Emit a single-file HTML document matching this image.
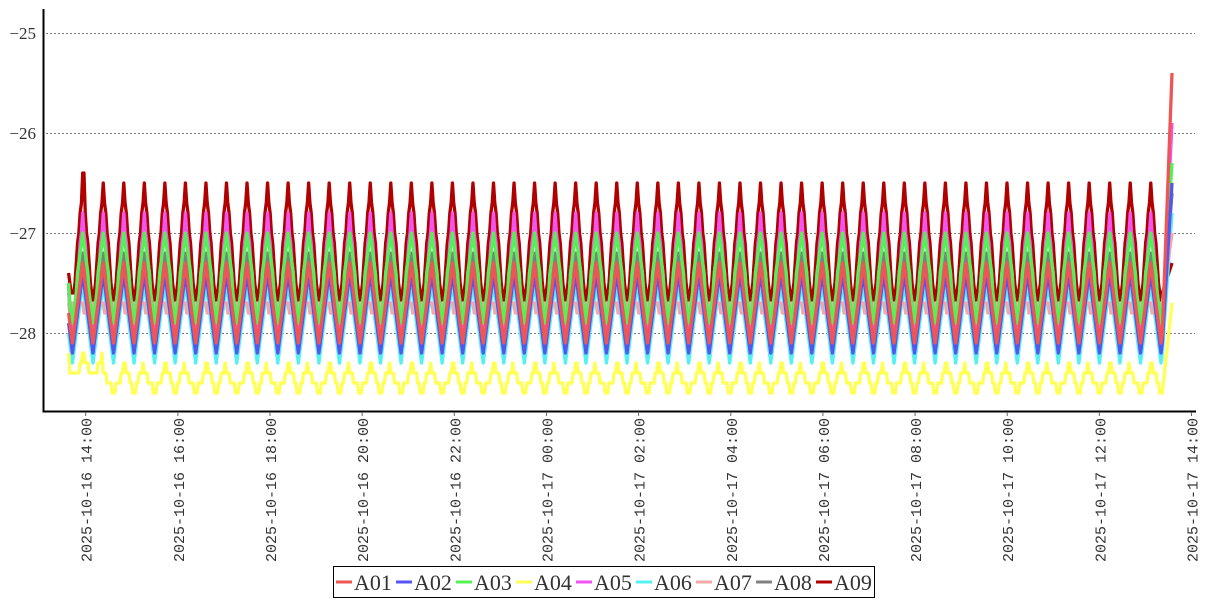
<!DOCTYPE html>
<html>
<head>
<meta charset="utf-8">
<style>
  html,body{margin:0;padding:0;background:#fff;}
  svg{display:block;}
  text{font-family:"Liberation Mono","DejaVu Sans Mono",monospace;fill:#333;}
  .ser{font-family:"Liberation Serif","DejaVu Serif",serif;}
</style>
</head>
<body>
<svg id="chart" xmlns="http://www.w3.org/2000/svg" width="1207" height="600" viewBox="0 0 1207 600">
  <rect x="0" y="0" width="1207" height="600" fill="#fff"/>
  <!-- grid -->
  <g stroke="#808080" stroke-width="1" stroke-dasharray="2 2">
    <line x1="46" y1="33.5" x2="1195" y2="33.5"/>
    <line x1="46" y1="133.5" x2="1195" y2="133.5"/>
    <line x1="46" y1="233.5" x2="1195" y2="233.5"/>
    <line x1="46" y1="333.5" x2="1195" y2="333.5"/>
  </g>
  <!-- y labels -->
  <g font-size="17" text-anchor="end" class="ser">
    <text class="ser" x="36" y="39">−25</text>
    <text class="ser" x="36" y="139">−26</text>
    <text class="ser" x="36" y="239">−27</text>
    <text class="ser" x="36" y="339">−28</text>
  </g>
  <g id="series" fill="none" stroke-width="3.3" stroke-linejoin="round"></g>
  <!-- axes -->
  <line x1="43.5" y1="9" x2="43.5" y2="412" stroke="#000" stroke-width="2"/>
  <line x1="42.5" y1="411.5" x2="1196" y2="411.5" stroke="#000" stroke-width="2"/>
  <g id="xticks"></g>
  <!-- legend -->
  <rect x="333.5" y="566.5" width="541" height="31" fill="#fff" stroke="#000" stroke-width="1"/>
  <g id="legend" font-size="22"></g>
</svg>
<script>
(function(){
  var NS="http://www.w3.org/2000/svg";
  function el(tag,attrs,parent,txt){var e=document.createElementNS(NS,tag);for(var k in attrs)e.setAttribute(k,attrs[k]);if(txt!==undefined)e.textContent=txt;parent.appendChild(e);return e;}
  // x ticks & labels
  var xt=document.getElementById('xticks');
  var labels=["2025-10-16 14:00","2025-10-16 16:00","2025-10-16 18:00","2025-10-16 20:00","2025-10-16 22:00","2025-10-17 00:00","2025-10-17 02:00","2025-10-17 04:00","2025-10-17 06:00","2025-10-17 08:00","2025-10-17 10:00","2025-10-17 12:00","2025-10-17 14:00"];
  for(var i=0;i<labels.length;i++){
    var tx=85.7+i*92.15;
    el('line',{x1:tx,y1:412,x2:tx,y2:416,stroke:'#666','stroke-width':1},xt);
    el('text',{transform:'translate('+(tx+6).toFixed(1)+',418) rotate(-90)','text-anchor':'end','font-size':15,x:0,y:0},xt,labels[i]);
  }
  function Y(v){return 33-100*(v+25);}
  var P=20.54,x0=82.7,N=16,s=P/N;
  var series=[
    {n:'A09',c:'#b00000',pk:-26.5,tr:-27.8,start:-27.4,end:-27.3},
    {n:'A08',c:'#808080',pk:-27.2,tr:-27.95,start:-27.5,end:-26.6},
    {n:'A06',c:'#55f0f0',pk:-27.5,tr:-28.3,start:-28.0,end:-26.8},
    {n:'A07',c:'#f0a8a8',pk:-27.68,tr:-27.82,start:-27.7,end:-27.0,ph:4},
    {n:'A05',c:'#f055f0',pk:-26.8,tr:-28.05,start:-27.6,end:-25.9},
    {n:'A04',c:'#ffff55',pk:-28.3,tr:-28.6,start:-28.2,end:-27.7,yel:true},
    {n:'A03',c:'#55f055',pk:-27.0,tr:-27.9,start:-27.5,end:-26.3},
    {n:'A02',c:'#5555f0',pk:-27.45,tr:-28.2,start:-27.9,end:-26.5},
    {n:'A01',c:'#f05555',pk:-27.3,tr:-28.1,start:-27.8,end:-25.4}
  ];
  var g=document.getElementById('series');
  var kStart=-Math.round(14.7/s), kEnd=52*N+N/2+1;
  series.forEach(function(se){
    var pts=[];
    for(var k=kStart;k<=kEnd;k++){
      var x=x0+k*s;
      var kk=k+(se.ph||0);
      var m=((kk%N)+N)%N;
      var per=Math.floor(k/N);
      var t=m/N;
      var d=Math.min(t,1-t)*2;
      var pk=se.pk,tr=se.tr;
      if(se.yel){
        pk=(per%2===0)?-28.3:-28.4;
        if(per<=0){pk+=0.1;tr+=0.15;}
      }
      var v=pk-(pk-tr)*d;
      if(se.n==='A09'&&per===0&&m<=1)v=-26.4+(m?-0.05:0);
      if(se.n==='A09'&&per===-1)v=Math.max(v,-27.65);
      if(k===kStart)v=se.start;
      v=Math.round(v*10+0.0001)/10;
      pts.push(x.toFixed(2)+','+Y(v).toFixed(2));
    }
    pts.push('1172,'+Y(se.end).toFixed(2));
    el('polyline',{points:pts.join(' '),stroke:se.c},g);
  });
  // legend
  var lg=document.getElementById('legend');
  var leg=[['A01','#f05555'],['A02','#5555f0'],['A03','#55f055'],['A04','#ffff55'],['A05','#f055f0'],['A06','#55f0f0'],['A07','#f0a8a8'],['A08','#808080'],['A09','#b00000']];
  for(var j=0;j<leg.length;j++){
    var lx=336+j*60;
    el('line',{x1:lx,y1:582,x2:lx+16,y2:582,stroke:leg[j][1],'stroke-width':3},lg);
    el('text',{x:lx+18,y:590,'class':'ser'},lg,leg[j][0]);
  }
})();
</script>
</body>
</html>
